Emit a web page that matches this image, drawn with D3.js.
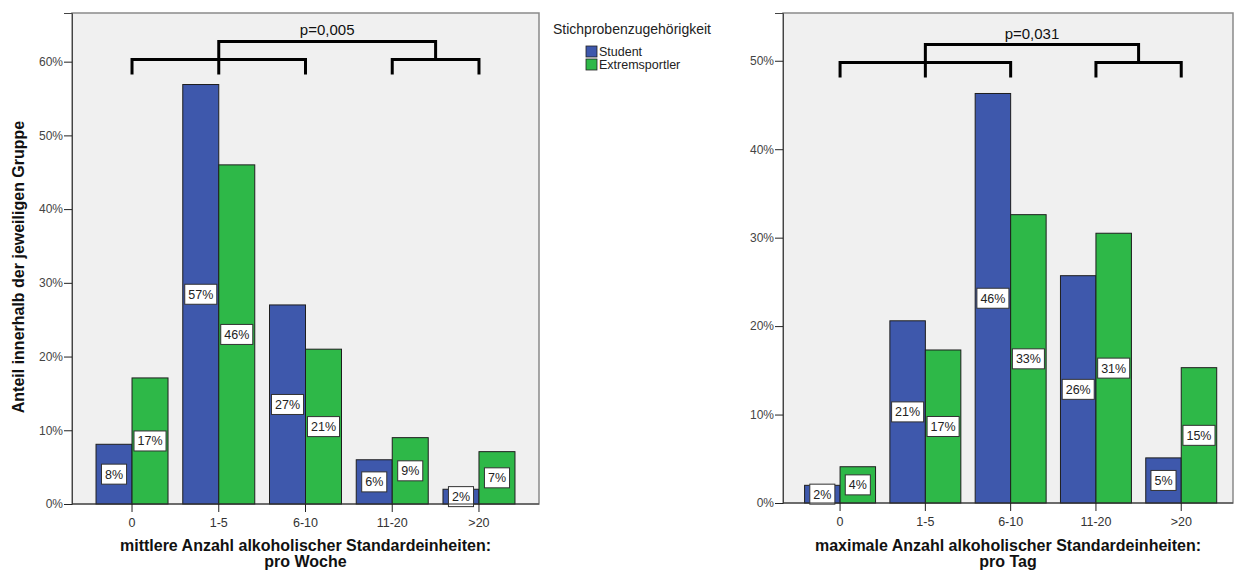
<!DOCTYPE html>
<html>
<head>
<meta charset="utf-8">
<script src="https://cdn.jsdelivr.net/npm/d3@7"></script>
<style>
body { margin:0; background:#fff; }
text { font-family:"Liberation Sans", Arial, sans-serif; }
</style>
</head>
<body>
<div class="chart"></div>
<script>
// categories & groups
var categories = ["0","1-5","6-10","11-20",">20"]
var groups = ["Student","Extremsportler"]

// Anteil in % (mittlere Anzahl pro Woche)
var weekStudent = [8.1, 56.9, 27.0, 6.0, 2.0]
var weekExtrem = [17.1, 46.0, 21.0, 9.0, 7.1]
// Anteil in % (maximale Anzahl pro Tag)
var dayStudent = [2.0, 20.6, 46.3, 25.7, 5.1]
var dayExtrem = [4.1, 17.3, 32.6, 30.5, 15.3]

var weekTicks = [0,10,20,30,40,50,60]
var dayTicks = [0,10,20,30,40,50]

var colors = {"Student":"#3e58ac","Extremsportler":"#2eb848"}

var width = 1234, height = 572
var svg = d3.select(".chart").append("svg").attr("width",width).attr("height",height)

function drawChart(o) {
	var g = svg.append("g")

	//scales
	var y = d3.scaleLinear().domain([0,o.yMax]).range([o.bottom,o.top])
	var x = d3.scaleBand().domain(categories).range([o.left,o.right])
		.paddingInner(o.padIn).paddingOuter(o.padOut).align(o.align)
	var xg = d3.scaleBand().domain(groups).range([0,x.bandwidth()])

	//frame
	g.append("rect").attr("x",o.left).attr("y",o.top)
		.attr("width",o.right-o.left).attr("height",o.bottom-o.top)
		.attr("fill","#f0f0f0").attr("stroke","#8a8a8a").attr("stroke-width",1.5)

	//bars
	var rows = categories.map(function(c,i){
		return [{cat:c,grp:"Student",v:o.student[i]},{cat:c,grp:"Extremsportler",v:o.extrem[i]}]
	})
	var bars = g.append("g").selectAll("g").data(rows).enter().append("g")
		.attr("transform",function(d){return "translate("+x(d[0].cat)+",0)"})
	bars.selectAll("rect").data(function(d){return d}).enter().append("rect")
		.attr("x",function(d){return xg(d.grp)})
		.attr("y",function(d){return y(d.v)})
		.attr("width",xg.bandwidth())
		.attr("height",function(d){return y(0)-y(d.v)})
		.attr("fill",function(d){return colors[d.grp]})
		.attr("stroke","#1e1e1e").attr("stroke-width",1)

	//axes
	var yAxis = g.append("g").attr("transform","translate("+o.left+",0)")
		.call(d3.axisLeft(y).tickValues(o.ticks).tickFormat(function(d){return d+"%"}).tickSize(8).tickPadding(1))
	yAxis.select(".domain").attr("stroke","#444")
	yAxis.selectAll("text").attr("fill","#444").style("font-size","12px")
	yAxis.selectAll("line").attr("stroke","#222")

	var xAxis = g.append("g").attr("transform","translate(0,"+o.bottom+")")
		.call(d3.axisBottom(x).tickSize(8).tickPadding(6))
	xAxis.select(".domain").attr("stroke","#333").attr("d","M"+o.left+",0H"+o.right)
	xAxis.selectAll("text").attr("fill","#333").style("font-size","12.5px")
	xAxis.selectAll("line").attr("stroke","#222")

	//value labels
	var labels = bars.selectAll("g.lbl").data(function(d){return d}).enter().append("g").attr("class","lbl")
		.attr("transform",function(d){return "translate("+(xg(d.grp)+xg.bandwidth()/2)+","+y(d.v/2)+")"})
	var rects = labels.append("rect").attr("fill","#fff").attr("stroke","#333").attr("stroke-width",1)
	var texts = labels.append("text").attr("text-anchor","middle").attr("dy","0.36em")
		.style("font-size","12.5px").attr("fill","#222")
		.text(function(d){return Math.round(d.v)+"%"})
	texts.each(function(d){
		var w = this.getComputedTextLength()+7
		d3.select(this.parentNode).select("rect")
			.attr("x",-w/2).attr("y",-10).attr("width",w).attr("height",20)
	})

	//significance brackets
	var cx = function(c){return x(c)+x.bandwidth()/2}
	var by = y(o.bracket)
	var br = g.append("g").attr("fill","none").attr("stroke","#000").attr("stroke-width",3)
	var l0 = cx(categories[0]), l1 = cx(categories[1]), l2 = cx(categories[2])
	var r0 = cx(categories[3]), r1 = cx(categories[4]), rm = (r0+r1)/2
	br.append("path").attr("d","M"+l0+","+(by+15)+"V"+by+"H"+l2+"V"+(by+15))
	br.append("path").attr("d","M"+l1+","+(by+15)+"V"+(by-18)+"H"+rm+"V"+by)
	br.append("path").attr("d","M"+r0+","+(by+15)+"V"+by+"H"+r1+"V"+(by+15))
	g.append("text").attr("x",(l1+rm)/2).attr("y",by-24).attr("text-anchor","middle")
		.style("font-size","15px").attr("fill","#111").text(o.pText)

	//axis title
	var t = g.append("text").attr("text-anchor","middle").style("font-size","16px")
		.style("font-weight","bold").attr("fill","#111")
	t.append("tspan").attr("x",(o.left+o.right)/2).attr("y",551).text(o.title[0])
	t.append("tspan").attr("x",(o.left+o.right)/2).attr("y",567).text(o.title[1])
}

drawChart({left:72,right:539,top:13,bottom:504,yMax:66.6,padIn:0.17,padOut:0.277,align:0.5,
	student:weekStudent,extrem:weekExtrem,ticks:weekTicks,bracket:60.3,pText:"p=0,005",
	title:["mittlere Anzahl alkoholischer Standardeinheiten:","pro Woche"]})
drawChart({left:783,right:1233,top:13,bottom:503,yMax:55.4,padIn:0.168,padOut:0.222,align:0.57,
	student:dayStudent,extrem:dayExtrem,ticks:dayTicks,bracket:49.8,pText:"p=0,031",
	title:["maximale Anzahl alkoholischer Standardeinheiten:","pro Tag"]})

//y title
svg.append("text").attr("transform","translate(24,267) rotate(-90)").attr("text-anchor","middle")
	.style("font-size","16px").style("font-weight","bold").attr("fill","#111")
	.text("Anteil innerhalb der jeweiligen Gruppe")

//legend
var legend = svg.append("g").attr("transform","translate(553,0)")
legend.append("text").attr("x",0).attr("y",34).style("font-size","14px").attr("fill","#222")
	.text("Stichprobenzugehörigkeit")
var items = legend.selectAll("g.item").data(groups).enter().append("g").attr("class","item")
	.attr("transform",function(d,i){return "translate(33,"+(46+i*13)+")"})
items.append("rect").attr("width",11).attr("height",11)
	.attr("fill",function(d){return colors[d]}).attr("stroke","#222").attr("stroke-width",0.8)
items.append("text").attr("x",13).attr("y",10).style("font-size","12.5px").attr("fill","#222")
	.text(function(d){return d})
</script>
</body>
</html>
